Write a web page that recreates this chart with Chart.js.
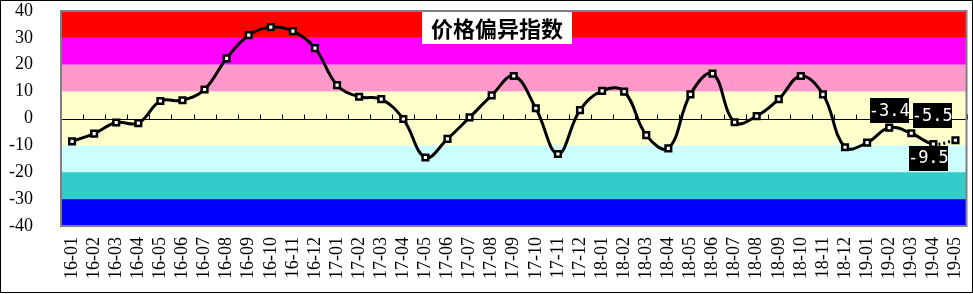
<!DOCTYPE html>
<html>
<head>
<meta charset="utf-8">
<script src="https://cdn.jsdelivr.net/npm/chart.js@4/dist/chart.umd.min.js"></script>
<style>
  html, body { margin: 0; padding: 0; background: #fff; }
  #wrap { width: 973px; height: 294px; }
</style>
</head>
<body>
<div id="wrap"><canvas id="myChart" width="973" height="294"></canvas></div>
<script>
const months = [
  '16-01', '16-02', '16-03', '16-04', '16-05', '16-06', '16-07', '16-08', '16-09', '16-10', '16-11', '16-12',
  '17-01', '17-02', '17-03', '17-04', '17-05', '17-06', '17-07', '17-08', '17-09', '17-10', '17-11', '17-12',
  '18-01', '18-02', '18-03', '18-04', '18-05', '18-06', '18-07', '18-08', '18-09', '18-10', '18-11', '18-12',
  '19-01', '19-02', '19-03', '19-04', '19-05'
];
const priceIndex = [
  -8.5, -5.6, -1.5, -1.7, 6.5, 6.8, 10.8, 22.4, 31.0, 34.0, 32.5, 26.2,
  12.4, 8.1, 7.2, -0.2, -14.5, -7.6, 0.4, 8.6, 15.8, 3.8, -13.2, 3.1,
  10.3, 10.0, -6.2, -11.1, 9.0, 16.7, -1.4, 0.9, 7.2, 15.8, 9.0, -10.7,
  -9.0, -3.4, -5.5, -9.5, -8.1
];
const yTicks = [-40, -30, -20, -10, 0, 10, 20, 30, 40];
const bandEdges = [40, 30, 20, 10, -10, -20, -30, -40];
const labelledMonths = ['19-02', '19-03', '19-04'];
const chartTitle = '价格偏异指数';

const bandColors = ['#ff0000', '#ff00ff', '#ff99cc', '#ffffcc', '#ccffff', '#33cccc', '#0000ff'];
const lastIdx = priceIndex.length - 1;

const backdrop = {
  id: 'backdrop',
  beforeDatasetsDraw(chart) {
    const { ctx, chartArea: a, scales: { x, y } } = chart;
    ctx.save();
    for (let i = 0; i < bandColors.length; i++) {
      const top = y.getPixelForValue(bandEdges[i]);
      const bot = y.getPixelForValue(bandEdges[i + 1]);
      ctx.fillStyle = bandColors[i];
      ctx.fillRect(a.left, top, a.right - a.left, bot - top);
    }
    // zero line with tick marks between months
    const y0 = Math.round(y.getPixelForValue(0)) + 0.5;
    ctx.strokeStyle = '#000';
    ctx.lineWidth = 1;
    ctx.beginPath();
    ctx.moveTo(a.left, y0);
    ctx.lineTo(a.right, y0);
    const step = x.getPixelForValue(1) - x.getPixelForValue(0);
    for (let i = 0; i <= months.length; i++) {
      const px = Math.round(x.getPixelForValue(i) - step / 2) + 0.5;
      ctx.moveTo(px, y0);
      ctx.lineTo(px, y0 - 5);
    }
    ctx.stroke();
    // plot border
    ctx.strokeStyle = '#808080';
    ctx.lineWidth = 2;
    ctx.strokeRect(a.left, a.top, a.right - a.left, a.bottom - a.top);
    ctx.restore();
  },
  afterDraw(chart) {
    const { ctx, scales: { x, y } } = chart;
    ctx.save();
    // title box over the plot
    ctx.fillStyle = '#fff';
    ctx.fillRect(422, 12, 150, 32);
    ctx.fillStyle = '#000';
    ctx.font = 'bold 22px "Noto Sans CJK SC"';
    ctx.textAlign = 'center';
    ctx.textBaseline = 'middle';
    ctx.fillText(chartTitle, 497, 29);
    // value labels
    const offsets = [[0, -17], [21, -18], [-5, 14]];
    ctx.font = '17px "DejaVu Sans Mono"';
    labelledMonths.forEach((m, k) => {
      const i = months.indexOf(m);
      const px = x.getPixelForValue(i) + offsets[k][0];
      const py = y.getPixelForValue(priceIndex[i]) + offsets[k][1];
      const txt = priceIndex[i].toFixed(1);
      ctx.fillStyle = '#000';
      ctx.fillRect(Math.round(px - 19.5), Math.round(py - 12.5), 39, 25);
      ctx.fillStyle = '#fff';
      ctx.fillText(txt, px, py + 1);
    });
    // outer frame
    ctx.strokeStyle = '#000';
    ctx.lineWidth = 1;
    ctx.strokeRect(0.5, 0.5, 972, 292);
    ctx.restore();
  }
};

const chart = new Chart(document.getElementById('myChart'), {
  type: 'line',
  data: {
    labels: months,
    datasets: [{
      data: priceIndex,
      borderColor: '#000',
      borderWidth: 3,
      tension: 0.4,
      pointStyle: 'rect',
      pointRadius: 4,
      pointBorderWidth: 2.5,
      pointBorderColor: '#000',
      pointBackgroundColor: '#fff',
      segment: {
        borderDash: c => (c.p1DataIndex === lastIdx ? [2, 3] : undefined)
      }
    }]
  },
  options: {
    responsive: false,
    animation: false,
    layout: { padding: { top: 11, right: 2, left: 0, bottom: 0 } },
    plugins: { legend: { display: false }, tooltip: { enabled: false } },
    scales: {
      x: {
        offset: true,
        grid: { display: false, drawTicks: false },
        border: { display: false },
        afterFit: s => {
          s.height = 68;
          s.paddingLeft = 0; s.paddingRight = 0; s.paddingTop = 0; s.paddingBottom = 0;
        },
        ticks: {
          autoSkip: false,
          minRotation: 90,
          maxRotation: 90,
          padding: 11,
          color: '#000',
          font: { family: '"Liberation Serif"', size: 18 }
        }
      },
      y: {
        min: -40,
        max: 40,
        afterBuildTicks: s => { s.ticks = yTicks.map(v => ({ value: v })); },
        afterFit: s => {
          s.width = 61;
          s.paddingLeft = 0; s.paddingRight = 0; s.paddingTop = 0; s.paddingBottom = 0;
        },
        grid: { display: false, drawTicks: false },
        border: { display: false },
        ticks: {
          autoSkip: false,
          padding: 28,
          color: '#000',
          font: { family: '"Liberation Serif"', size: 18 }
        }
      }
    }
  },
  plugins: [backdrop]
});
</script>
</body>
</html>
